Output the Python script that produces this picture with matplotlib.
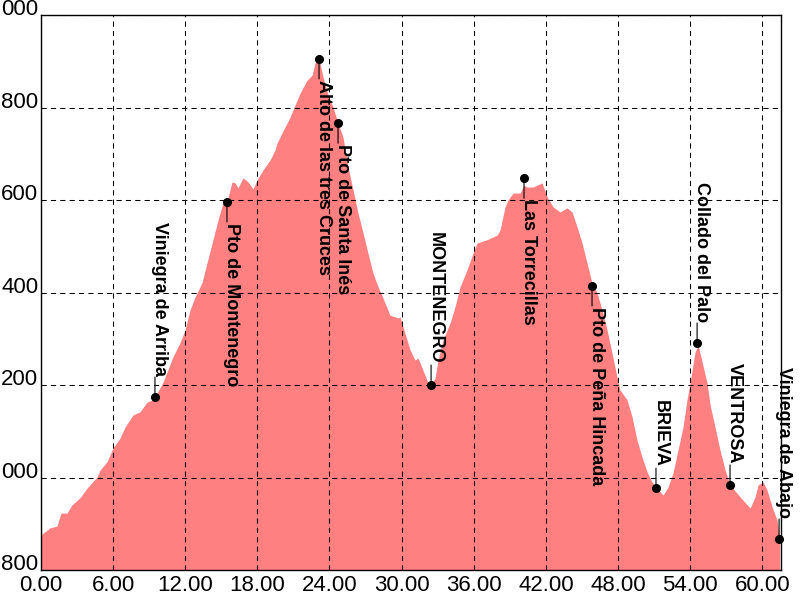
import matplotlib
matplotlib.use('Agg')
import matplotlib.pyplot as plt
import numpy as np

plt.rcParams['font.family'] = ['Liberation Sans', 'DejaVu Sans']

# Profile (distance km, elevation m)
dist_km = [0.00, 0.75, 1.33, 1.66, 2.16, 2.58, 3.24, 3.83, 4.66, 4.91, 5.49, 5.99,
           6.57, 6.99, 7.65, 8.24, 8.82, 9.32, 9.48, 10.15, 10.98, 11.56, 11.98,
           12.40, 12.81, 13.39, 13.81, 14.31, 14.73, 15.14, 15.47, 15.89, 16.14,
           16.39, 16.81, 17.22, 17.64, 17.97, 18.47, 19.05, 19.47, 19.63, 20.30,
           20.72, 21.13, 21.55, 22.13, 22.55, 22.80, 23.13, 23.46, 23.88, 24.29,
           24.71, 25.12, 25.54, 25.96, 26.37, 26.79, 27.20, 27.62, 28.04, 28.45,
           29.03, 29.70, 29.87, 30.28, 30.70, 31.11, 31.36, 31.78, 32.20, 32.45,
           32.78, 33.03, 33.44, 34.03, 34.44, 34.86, 35.44, 35.94, 36.27, 37.10,
           37.94, 38.19, 38.60, 38.85, 39.27, 39.85, 40.18, 40.43, 40.93, 41.68,
           42.10, 42.60, 43.18, 43.76, 44.18, 44.59, 45.01, 45.42, 45.84, 46.26,
           46.67, 47.09, 47.50, 47.92, 48.17, 48.75, 49.17, 49.58, 50.00, 50.42,
           50.83, 51.25, 51.75, 52.16, 52.58, 52.99, 53.41, 53.74, 53.99, 54.41,
           54.66, 55.41, 55.66, 56.07, 56.49, 56.91, 57.32, 57.90, 58.40, 58.99,
           59.40, 59.65, 60.07, 60.40, 60.82, 61.23, 61.45]
elev_m = [876, 891, 895, 923, 923, 941, 956, 977, 1001, 1016, 1034, 1064,
          1085, 1109, 1135, 1142, 1163, 1168, 1174, 1206, 1261, 1291, 1319,
          1362, 1390, 1421, 1464, 1514, 1557, 1594, 1596, 1639, 1637,
          1626, 1648, 1639, 1624, 1643, 1665, 1686, 1708, 1723, 1758,
          1779, 1805, 1831, 1859, 1870, 1896, 1905, 1866, 1827, 1801,
          1766, 1736, 1671, 1622, 1572, 1529, 1485, 1442, 1412, 1388,
          1351, 1345, 1347, 1312, 1276, 1254, 1258, 1232, 1204, 1200,
          1215, 1254, 1297, 1334, 1369, 1412, 1449, 1485, 1507, 1514,
          1524, 1535, 1585, 1600, 1615, 1615, 1632, 1628, 1628, 1637,
          1607, 1585, 1574, 1583, 1574, 1542, 1507, 1464, 1420, 1399,
          1362, 1319, 1269, 1217, 1189, 1168, 1131, 1081, 1044, 1012,
          990, 977, 962, 979, 1010, 1059, 1109, 1168, 1204, 1271,
          1287, 1204, 1157, 1109, 1059, 1016, 984, 966, 951, 934,
          958, 984, 990, 973, 936, 908, 867]

# Waypoints
wp_names = ['Viniegra de Arriba', 'Pto de Montenegro', 'Alto de las tres Cruces',
            'Pto de Santa Inés', 'MONTENEGRO', 'Las Torrecillas',
            'Pto de Peña Hincada', 'BRIEVA', 'Collado del Palo', 'VENTROSA',
            'Viniegra de Abajo']
wp_km = [9.48, 15.47, 23.13, 24.71, 32.45, 40.18, 45.84, 51.16, 54.58, 57.32, 61.40]
wp_elev = [1174, 1596, 1905, 1766, 1200, 1647, 1414, 977, 1291, 984, 867]
wp_text_above = [True, False, False, False, True, False, False, True, True, True, True]

x_ticks = [0, 6, 12, 18, 24, 30, 36, 42, 48, 54, 60]
y_ticks = [800, 1000, 1200, 1400, 1600, 1800, 2000]

fig = plt.figure(figsize=(8, 6), dpi=100)
ax = fig.add_axes([41 / 800, 30 / 600, 740 / 800, 555 / 600])
ax.fill_between(dist_km, elev_m, 800, color='#FF8080', lw=0, zorder=1)
ax.set_xlim(0, 61.56)
ax.set_ylim(800, 2000)
ax.set_xticks(x_ticks)
ax.set_xticklabels([f"{v:.2f}" for v in x_ticks])
ax.set_yticks(y_ticks)
ax.set_yticklabels([f"{v % 1000:03d}" for v in y_ticks])
for lbl in ax.get_yticklabels():
    lbl.set_verticalalignment('baseline')
ax.grid(True, color='black', linestyle=(0, (5, 4)), linewidth=0.75)
ax.set_axisbelow(False)
ax.tick_params(axis='both', length=0, labelsize=16, colors='black')
ax.tick_params(axis='y', pad=2)
ax.tick_params(axis='x', pad=3.5)
for s in ax.spines.values():
    s.set_linewidth(1.0)
    s.set_color('black')
    s.set_zorder(6)

for name, x, y, above in zip(wp_names, wp_km, wp_elev, wp_text_above):
    sgn = 1 if above else -1
    ax.annotate('', xy=(x, y), xytext=(0, sgn * 20), textcoords='offset pixels',
                arrowprops=dict(arrowstyle='-', color='black', lw=0.8,
                                shrinkA=0, shrinkB=0), zorder=5, annotation_clip=False)
    ax.plot([x], [y], 'o', color='black', ms=5.5, zorder=6, clip_on=False)
    ax.annotate(name, xy=(x, y), xytext=(0, sgn * 21), textcoords='offset pixels',
                rotation=-90, rotation_mode='anchor',
                ha='right' if above else 'left', va='baseline',
                fontsize=13, fontweight='bold', color='black', zorder=7,
                annotation_clip=False)

fig.savefig('out.png', dpi=100)
